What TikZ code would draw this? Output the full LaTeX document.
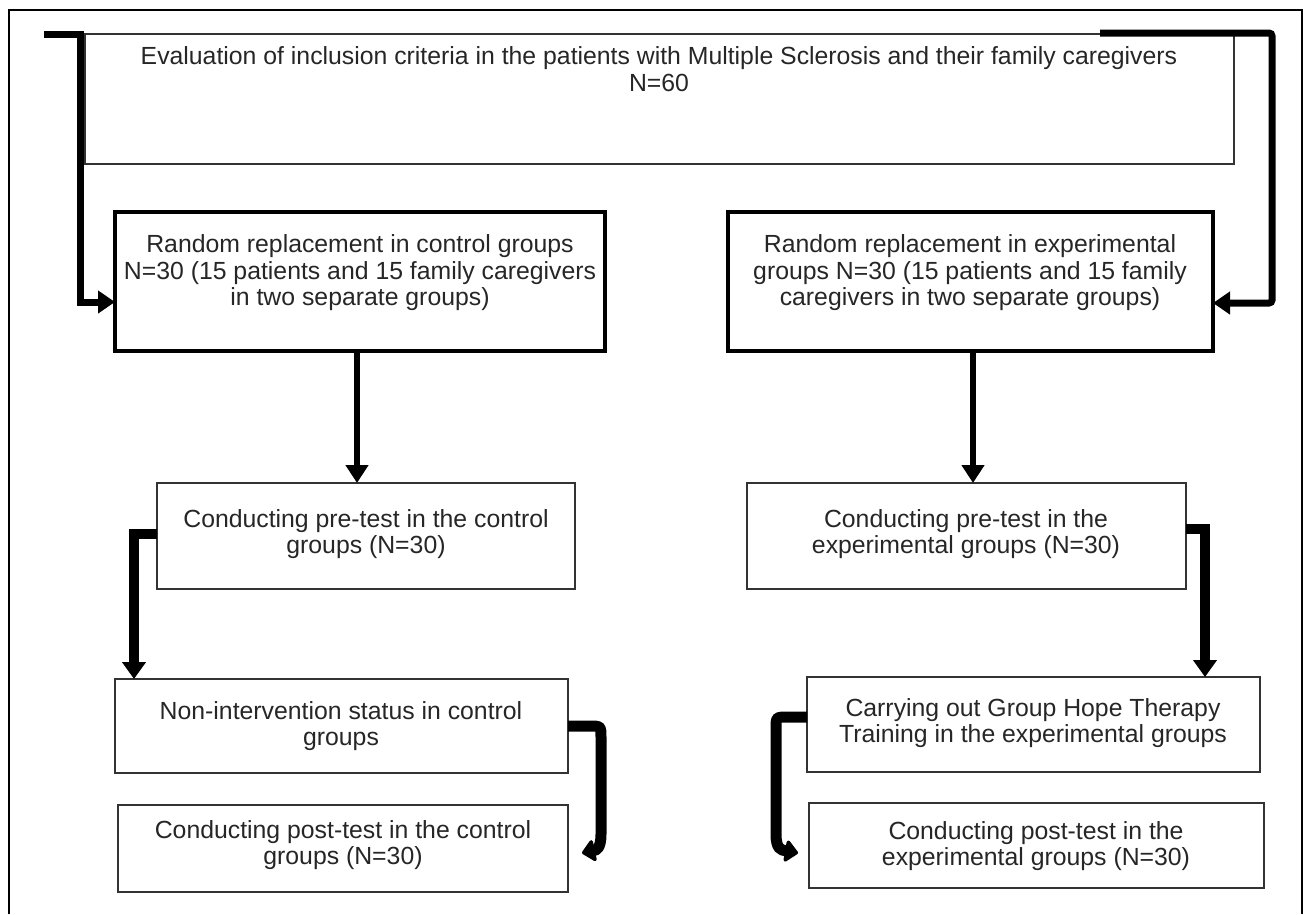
\documentclass[tikz,border=0pt]{standalone}
\usepackage{fontspec}
\setmainfont{Liberation Sans}
\usetikzlibrary{arrows.meta,calc}
\begin{document}
\begin{tikzpicture}[x=1pt,y=-1pt,
  thinbox/.style={draw=black!80,line width=1.4pt,rectangle,inner sep=0pt,outer sep=0pt},
  thickbox/.style={draw=black,line width=4.5pt,rectangle,inner sep=0pt,outer sep=0pt},
  txt/.style={align=center,inner sep=0pt,text=black!85,font=\fontsize{24.8}{26.5}\selectfont},
  bigconn/.style={draw=black,line width=7pt,-{Triangle[width=22pt,length=17pt]}},
  vconn/.style={draw=black,line width=6pt,-{Triangle[width=22pt,length=18pt]}},
  sideconn/.style={draw=black,line width=10pt,-{Triangle[width=23pt,length=17pt]}},
  curvconn/.style={draw=black,line width=11pt,-{Triangle[width=25pt,length=14pt,round]}}
]
\useasboundingbox (0,0) rectangle (1303,914);
% outer frame
\draw[line width=2pt] (9,914) -- (9,10) -- (1302,10) -- (1302,914);

% boxes
\node[thinbox,minimum width=1149pt,minimum height=130pt] (top) at (659.5,99) {};
\node[txt] (ttop) at (659,69) {Evaluation of inclusion criteria in the patients with Multiple Sclerosis and their family caregivers\\N=60};

\node[thickbox,minimum width=490pt,minimum height=139pt] (b2) at (360,281.5) {};
\node[txt] (t2) at (360,273) {Random replacement in control groups\\N=30 (15 patients and 15 family caregivers\\in two separate groups)};

\node[thickbox,minimum width=485pt,minimum height=139pt] (b3) at (970.5,281.5) {};
\node[txt] (t3) at (970,273) {Random replacement in experimental\\groups N=30 (15 patients and 15 family\\caregivers in two separate groups)};

\node[thinbox,minimum width=418pt,minimum height=106pt] (b4) at (366,536) {};
\node[txt] (t4) at (366,534) {Conducting pre-test in the control\\groups (N=30)};

\node[thinbox,minimum width=439pt,minimum height=106pt] (b5) at (966.5,536) {};
\node[txt] (t5) at (966,534) {Conducting pre-test in the\\experimental groups (N=30)};

\node[thinbox,minimum width=453pt,minimum height=94pt] (b6) at (341.5,726) {};
\node[txt] (t6) at (341,726) {Non-intervention status in control\\groups};

\node[thinbox,minimum width=450pt,minimum height=87pt] (b7) at (343,848.5) {};
\node[txt] (t7) at (343,845) {Conducting post-test in the control\\groups (N=30)};

\node[thinbox,minimum width=453pt,minimum height=95pt] (b8) at (1033.5,724.5) {};
\node[txt] (t8) at (1033,723) {Carrying out Group Hope Therapy\\Training in the experimental groups};

\node[thinbox,minimum width=455pt,minimum height=85pt] (b9) at (1036.5,845.5) {};
\node[txt] (t9) at (1036,846) {Conducting post-test in the\\experimental groups (N=30)};

% connectors
\coordinate (s1) at (44,34);
\coordinate (c1) at (80,302);
\draw[bigconn,line join=miter] (s1) -| (c1) -- (c1 -| b2.west);

\coordinate (s2) at (1100,33);
\coordinate (c2) at (1272,303);
\draw[bigconn,rounded corners=3pt] (s2) -| (c2) -- (c2 -| b3.east);

\draw[vconn] ([xshift=-3pt]b2.south) -- ([xshift=-3pt]b2.south |- b4.north);
\draw[vconn] ([xshift=2.5pt]b3.south) -- ([xshift=2.5pt]b3.south |- b5.north);

\coordinate (k4) at (134,534);
\draw[sideconn] ([yshift=2pt]b4.west) -- (k4) -- (k4 |- b6.north);

\coordinate (k5) at (1205,529);
\draw[sideconn] ([yshift=7pt]b5.east) -- (k5) -- (k5 |- b8.north);

\coordinate (e6) at (582,853);
\draw[curvconn] (b6.east) -- (589,726) .. controls (601,726) .. (601,738) -- (601,834) .. controls (601,849) and (596,850) .. (e6);

\coordinate (e8) at (798,853);
\draw[curvconn] ([yshift=7.5pt]b8.west) -- (788,717) .. controls (776,717) .. (776,729) -- (776,834) .. controls (776,849) and (781,850) .. (e8);
\end{tikzpicture}
\end{document}
